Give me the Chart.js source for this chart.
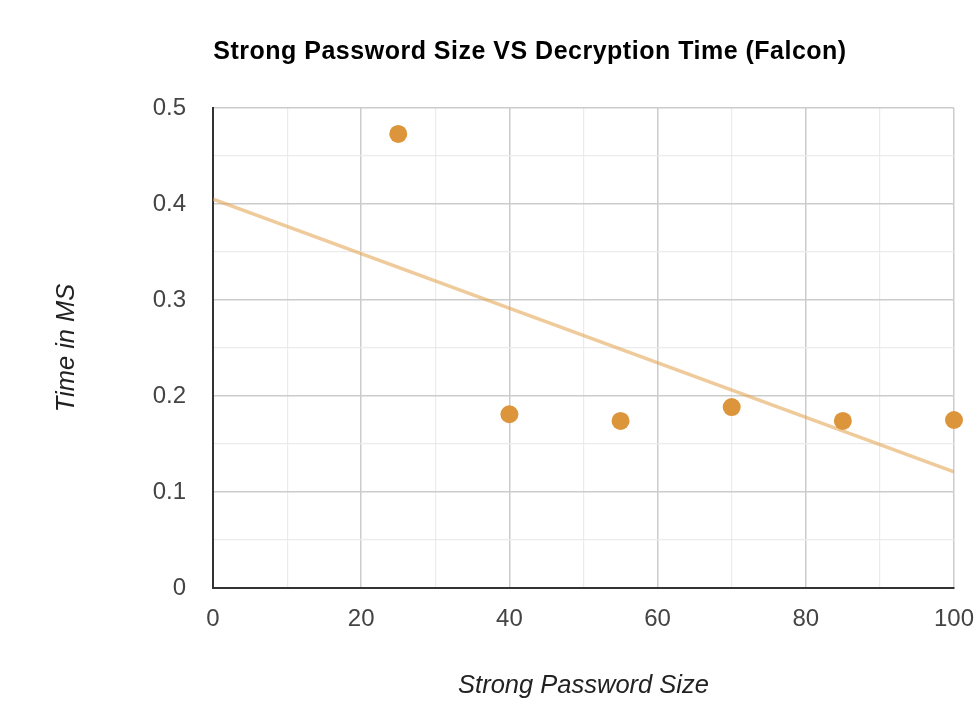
<!DOCTYPE html>
<html>
<head>
<meta charset="utf-8">
<script src="https://cdn.jsdelivr.net/npm/chart.js@4.4.1/dist/chart.umd.min.js"></script>
<style>
  html, body { margin: 0; padding: 0; background: #ffffff; }
  #wrap { width: 980px; height: 716px; position: relative; }
</style>
</head>
<body>
<div id="wrap"><canvas id="c" width="980" height="716"></canvas></div>
<script>
// ---- data ----
const chartTitle = 'Strong Password Size VS Decryption Time (Falcon)';
const xAxisTitle = 'Strong Password Size';
const yAxisTitle = 'Time in MS';
const passwordSize = [25, 40, 55, 70, 85, 100];
const decryptionTime = [0.473, 0.181, 0.174, 0.1885, 0.174, 0.175];
const trendX = [0, 100];
const trendY = [0.405, 0.121];
const xTickLabels = ['0', '20', '40', '60', '80', '100'];
const yTickLabels = ['0', '0.1', '0.2', '0.3', '0.4', '0.5'];

const FONT = "'Liberation Sans', Arial, sans-serif";
const pointColor = '#DC953A';
const trendColor = 'rgba(226, 160, 75, 0.55)';

const titlePlugin = {
  id: 'fixedTitle',
  afterDraw(chart) {
    const ctx = chart.ctx;
    ctx.save();
    ctx.font = 'bold 25px ' + FONT;
    try { ctx.letterSpacing = '0.5px'; } catch (e) {}
    ctx.fillStyle = '#000000';
    ctx.textAlign = 'center';
    ctx.textBaseline = 'middle';
    ctx.fillText(chartTitle, 530, 52);
    ctx.restore();
  }
};

function labelFor(list, v) {
  for (const s of list) {
    if (Math.abs(parseFloat(s) - v) < 1e-6) return s;
  }
  return '';
}
function isMajor(list, v) {
  return labelFor(list, v) !== '';
}

new Chart(document.getElementById('c'), {
  type: 'scatter',
  data: {
    datasets: [
      {
        label: 'Time',
        data: passwordSize.map((x, i) => ({ x: x, y: decryptionTime[i] })),
        backgroundColor: pointColor,
        borderWidth: 0,
        pointRadius: 9,
        pointHoverRadius: 9,
        clip: false,
        order: 1
      },
      {
        label: 'Trend',
        data: trendX.map((x, i) => ({ x: x, y: trendY[i] })),
        showLine: true,
        borderColor: trendColor,
        borderWidth: 3.5,
        pointRadius: 0,
        fill: false,
        order: 2
      }
    ]
  },
  options: {
    responsive: false,
    animation: false,
    events: [],
    layout: { padding: { top: 108, right: 26, left: 0, bottom: 0 } },
    plugins: {
      legend: { display: false },
      title: { display: false },
      tooltip: { enabled: false }
    },
    scales: {
      x: {
        type: 'linear',
        min: 0, max: 100,
        afterFit(scale) { scale.height = 128; scale.paddingLeft = 0; scale.paddingRight = 0; },
        ticks: {
          stepSize: 10,
          autoSkip: false,
          maxRotation: 0,
          padding: 17,
          color: '#444444',
          font: { family: FONT, size: 24 },
          callback: (v) => labelFor(xTickLabels, v)
        },
        grid: {
          drawTicks: false,
          color: (c) => isMajor(xTickLabels, c.tick.value) ? '#CCCCCC' : '#EBEBEB',
          lineWidth: (c) => isMajor(xTickLabels, c.tick.value) ? 1.5 : 1.2
        },
        border: { color: '#333333', width: 2 },
        title: {
          display: true,
          text: xAxisTitle,
          color: '#222222',
          font: { family: FONT, size: 25.5, style: 'italic' },
          padding: { top: 0, bottom: 15 }
        }
      },
      y: {
        type: 'linear',
        min: 0, max: 0.5,
        afterFit(scale) { scale.width = 213; scale.paddingTop = 0; scale.paddingBottom = 0; },
        ticks: {
          stepSize: 0.05,
          autoSkip: false,
          padding: 27,
          color: '#444444',
          font: { family: FONT, size: 24 },
          callback: (v) => labelFor(yTickLabels, v)
        },
        grid: {
          drawTicks: false,
          color: (c) => isMajor(yTickLabels, c.tick.value) ? '#CCCCCC' : '#EBEBEB',
          lineWidth: (c) => isMajor(yTickLabels, c.tick.value) ? 1.5 : 1.2
        },
        border: { color: '#333333', width: 2 },
        title: {
          display: true,
          text: yAxisTitle,
          color: '#222222',
          font: { family: FONT, size: 25.5, style: 'italic' },
          padding: { top: 52, bottom: 0 }
        }
      }
    }
  },
  plugins: [titlePlugin]
});
</script>
</body>
</html>
